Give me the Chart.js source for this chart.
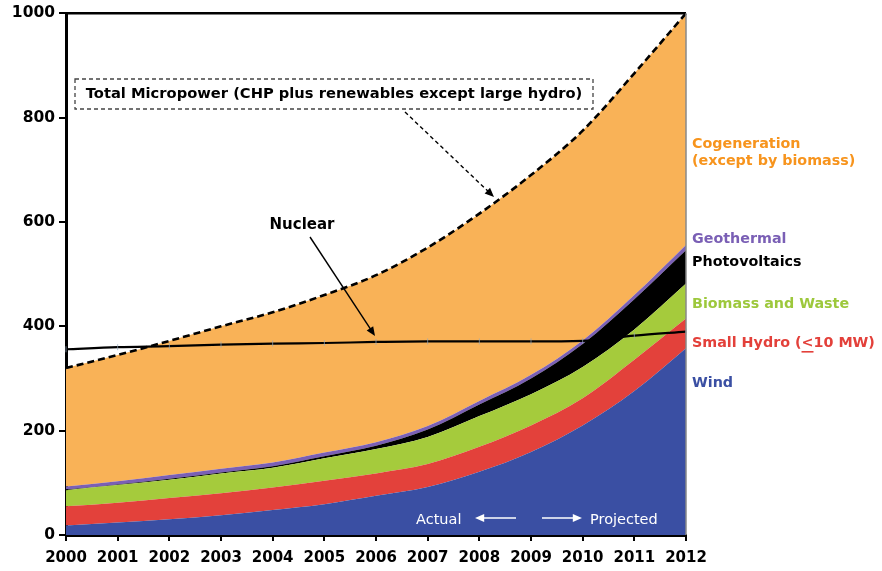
<!DOCTYPE html>
<html>
<head>
<meta charset="utf-8">
<title>Micropower vs Nuclear</title>
<script src="https://cdn.jsdelivr.net/npm/chart.js@4.4.1/dist/chart.umd.min.js"></script>
<style>
    html, body { margin: 0; padding: 0; background: #fff; }
    #wrap { width: 882px; height: 571px; position: relative; }
</style>
</head>
<body>
<div id="wrap"><canvas id="microChart"></canvas></div>
<script>
// Data (GW)
const years = ['2000', '2001', '2002', '2003', '2004', '2005', '2006', '2007', '2008', '2009', '2010', '2011', '2012'];
const wind = [18, 24, 30, 38, 48, 59, 75, 92, 121, 159, 210, 276, 358];
const smallHydro = [37, 38, 41, 42, 43, 45, 43, 44, 48, 51, 52, 60, 57];
const biomassWaste = [31, 34, 35, 38, 38, 43, 47, 52, 59, 60, 60, 58, 67];
const photovoltaics = [1, 1, 2, 2, 3, 4, 6, 14, 22, 30, 44, 58, 64];
const geothermal = [6, 6, 7, 7, 7, 7, 7, 7, 7, 7, 7, 8, 10];
const cogeneration = [227, 242, 257, 273, 288, 302, 320, 342, 359, 383, 402, 425, 444];
const nuclear = [356, 360, 362, 365, 367, 368, 370, 371, 371, 371, 372, 382, 390];
const yTicks = [0, 200, 400, 600, 800, 1000];

const FONT = '"DejaVu Sans", Verdana, sans-serif';

// Total micropower = sum of the stacked series
function totalMicropower() {
    return years.map((_, i) => wind[i] + smallHydro[i] + biomassWaste[i] + photovoltaics[i] + geothermal[i] + cogeneration[i]);
}

// Stacked area dataset helper
function areaSet(label, data, color, first) {
    return {
        label: label,
        data: data,
        backgroundColor: color,
        borderColor: color,
        borderWidth: 0,
        pointRadius: 0,
        fill: first ? 'origin' : '-1',
        tension: 0.4,
        cubicInterpolationMode: 'monotone',
        yAxisID: 'y',
        order: 5
    };
}

// Draw arrow with filled head
function drawArrow(ctx, x1, y1, x2, y2, color, dash, width) {
    const ang = Math.atan2(y2 - y1, x2 - x1);
    const head = 10;
    ctx.save();
    ctx.strokeStyle = color;
    ctx.fillStyle = color;
    ctx.lineWidth = width;
    ctx.setLineDash(dash);
    ctx.beginPath();
    ctx.moveTo(x1, y1);
    ctx.lineTo(x2 - Math.cos(ang) * head * 0.6, y2 - Math.sin(ang) * head * 0.6);
    ctx.stroke();
    ctx.setLineDash([]);
    ctx.beginPath();
    ctx.moveTo(x2, y2);
    ctx.lineTo(x2 - head * Math.cos(ang - 0.4), y2 - head * Math.sin(ang - 0.4));
    ctx.lineTo(x2 - head * Math.cos(ang + 0.4), y2 - head * Math.sin(ang + 0.4));
    ctx.closePath();
    ctx.fill();
    ctx.restore();
}

// Annotations, frame and series labels
const annotationPlugin = {
    id: 'annotations',
    afterDraw(chart) {
        const ctx = chart.ctx;
        const area = chart.chartArea;
        ctx.save();

        // top + right frame
        ctx.strokeStyle = '#000';
        ctx.lineWidth = 2.5;
        ctx.beginPath();
        ctx.moveTo(area.left, area.top);
        ctx.lineTo(area.right, area.top);
        ctx.stroke();
        ctx.strokeStyle = '#888';
        ctx.lineWidth = 1.5;
        ctx.beginPath();
        ctx.moveTo(area.right, area.top);
        ctx.lineTo(area.right, area.bottom);
        ctx.stroke();

        // Total micropower box
        ctx.setLineDash([4, 3]);
        ctx.strokeStyle = '#444';
        ctx.lineWidth = 1.3;
        ctx.strokeRect(75, 79, 518, 30);
        ctx.setLineDash([]);
        ctx.fillStyle = '#000';
        ctx.font = 'bold 14.7px ' + FONT;
        ctx.textAlign = 'center';
        ctx.textBaseline = 'middle';
        ctx.fillText('Total Micropower (CHP plus renewables except large hydro)', 334, 94);
        drawArrow(ctx, 405, 112, 494, 197, '#000', [4, 3], 1.4);

        // Nuclear label
        ctx.font = 'bold 15px ' + FONT;
        ctx.fillText('Nuclear', 302, 225);
        drawArrow(ctx, 310, 237, 375, 336, '#000', [], 1.4);

        // Actual / Projected
        ctx.fillStyle = '#fff';
        ctx.font = '14.5px ' + FONT;
        ctx.textAlign = 'left';
        ctx.fillText('Actual', 416, 520);
        ctx.fillText('Projected', 590, 520);
        drawArrow(ctx, 516, 518, 475, 518, '#fff', [], 1.6);
        drawArrow(ctx, 542, 518, 582, 518, '#fff', [], 1.6);

        // Series labels on the right
        ctx.font = 'bold 14.3px ' + FONT;
        ctx.textAlign = 'left';
        const lx = 692;
        ctx.fillStyle = '#f7941d';
        ctx.fillText('Cogeneration', lx, 144);
        ctx.fillText('(except by biomass)', lx, 161);
        ctx.fillStyle = '#7a5fb5';
        ctx.fillText('Geothermal', lx, 239);
        ctx.fillStyle = '#000';
        ctx.fillText('Photovoltaics', lx, 262);
        ctx.fillStyle = '#9dc83c';
        ctx.fillText('Biomass and Waste', lx, 304);
        ctx.fillStyle = '#e3403a';
        const hydroA = 'Small Hydro (';
        ctx.fillText(hydroA, lx, 343);
        const ax = lx + ctx.measureText(hydroA).width;
        ctx.fillText('<', ax, 343);
        const lw = ctx.measureText('<').width;
        ctx.fillRect(ax, 351, lw, 1.6);
        ctx.fillText('10 MW)', ax + lw, 343);
        ctx.fillStyle = '#3a4fa3';
        ctx.fillText('Wind', lx, 383);

        ctx.restore();
    }
};

function drawChart() {
    const ctx = document.getElementById('microChart');
    new Chart(ctx, {
        type: 'line',
        data: {
            labels: years,
            datasets: [
                areaSet('Wind', wind, '#3a4fa3', true),
                areaSet('Small Hydro', smallHydro, '#e3413b', false),
                areaSet('Biomass and Waste', biomassWaste, '#a5cb3c', false),
                areaSet('Photovoltaics', photovoltaics, '#000000', false),
                areaSet('Geothermal', geothermal, '#7a5fb5', false),
                areaSet('Cogeneration', cogeneration, '#f9b257', false),
                {
                    label: 'Nuclear',
                    data: nuclear,
                    borderColor: '#000',
                    borderWidth: 2.2,
                    fill: false,
                    pointStyle: 'line',
                    pointRadius: 3,
                    pointRotation: 90,
                    pointBorderColor: 'rgba(150,170,190,0.7)',
                    pointBorderWidth: 1,
                    tension: 0.3,
                    cubicInterpolationMode: 'monotone',
                    yAxisID: 'y2',
                    order: 1
                },
                {
                    label: 'Total Micropower',
                    data: totalMicropower(),
                    borderColor: '#000',
                    borderWidth: 2.6,
                    borderDash: [7, 4],
                    fill: false,
                    pointRadius: 0,
                    tension: 0.4,
                    cubicInterpolationMode: 'monotone',
                    yAxisID: 'y2',
                    order: 0
                }
            ]
        },
        options: {
            responsive: false,
            animation: false,
            layout: {
                padding: { top: 12, right: 196, left: 0, bottom: 0 }
            },
            scales: {
                x: {
                    offset: false,
                    grid: {
                        drawOnChartArea: false,
                        drawTicks: true,
                        tickLength: 6,
                        color: '#000',
                        lineWidth: 2
                    },
                    border: { display: true, color: '#000', width: 3 },
                    ticks: {
                        color: '#000',
                        font: { family: FONT, size: 15, weight: 'bold' },
                        padding: 8,
                        maxRotation: 0,
                        autoSkip: false
                    },
                    afterFit: function(scale) { scale.height = 36; }
                },
                y: {
                    stacked: true,
                    min: 0,
                    max: 1000,
                    afterBuildTicks: function(scale) {
                        scale.ticks = yTicks.map(v => ({ value: v }));
                    },
                    grid: {
                        drawOnChartArea: false,
                        drawTicks: true,
                        tickLength: 7,
                        color: '#000',
                        lineWidth: 2
                    },
                    border: { display: true, color: '#000', width: 3 },
                    ticks: {
                        color: '#000',
                        font: { family: FONT, size: 15.5, weight: 'bold' },
                        padding: 4,
                        callback: function(value) { return String(value); }
                    },
                    afterFit: function(scale) { scale.width = 66; }
                },
                y2: {
                    display: false,
                    min: 0,
                    max: 1000
                }
            },
            plugins: {
                legend: { display: false },
                tooltip: { enabled: false }
            }
        },
        plugins: [annotationPlugin]
    });
}

document.getElementById('microChart').width = 882;
document.getElementById('microChart').height = 571;
drawChart();
</script>
</body>
</html>
